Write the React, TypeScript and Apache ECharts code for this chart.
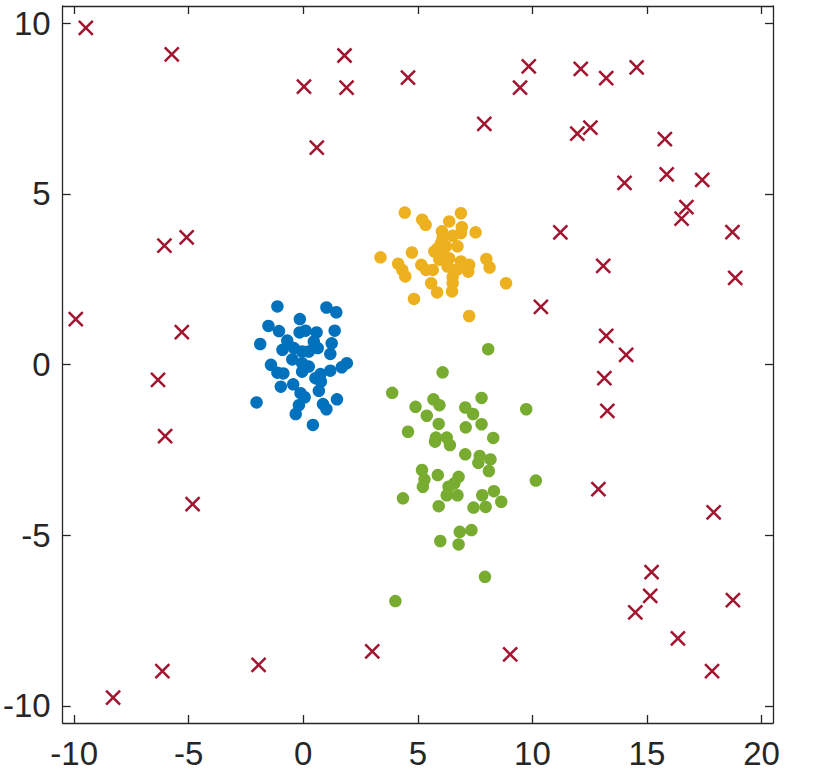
import React, { useEffect, useRef } from "react";
import * as echarts from "echarts";

const xTicks = [-10, -5, 0, 5, 10, 15, 20];
const yTicks = [-10, -5, 0, 5, 10];

const blueX = [-1.13, 1.01, 1.44, -0.15, -1.52, -1.06, -0.16, 0.10, 0.58, 1.37, -1.88, -0.70, 0.46, 1.24, -0.91, -0.41, -0.05, 0.24, 0.63, 1.18, -0.48, -0.05, 0.24, -1.41, -1.13, -0.87, -0.05, 1.90, 1.68, 1.18, 0.75, 0.53, 0.77, -0.98, -0.44, -0.12, 0.06, 0.68, -2.04, 1.47, -0.19, -0.33, 0.86, 1.01, 0.42];
const blueY = [1.70, 1.67, 1.53, 1.33, 1.13, 0.98, 0.94, 0.99, 0.94, 0.99, 0.60, 0.70, 0.67, 0.62, 0.43, 0.48, 0.38, 0.38, 0.48, 0.31, 0.15, 0.04, -0.06, -0.01, -0.24, -0.26, -0.21, 0.04, -0.08, -0.18, -0.28, -0.40, -0.50, -0.65, -0.58, -0.84, -0.96, -0.77, -1.11, -1.02, -1.19, -1.45, -1.16, -1.31, -1.77];

const yellowX = [4.43, 6.88, 5.19, 5.34, 6.37, 6.05, 6.92, 7.52, 6.52, 6.88, 6.01, 6.23, 6.73, 3.37, 4.74, 5.72, 6.08, 5.94, 6.37, 6.88, 7.24, 7.99, 8.13, 4.14, 4.32, 4.45, 5.15, 5.36, 5.65, 7.20, 6.52, 5.58, 6.52, 8.85, 5.84, 6.49, 4.83, 7.24, 6.08, 5.87, 6.30, 6.73];
const yellowY = [4.45, 4.43, 4.24, 4.09, 4.19, 3.90, 4.02, 3.87, 3.77, 3.85, 3.55, 3.46, 3.46, 3.14, 3.28, 3.31, 3.26, 3.07, 3.11, 3.02, 2.92, 3.09, 2.84, 2.95, 2.77, 2.58, 2.92, 2.77, 2.77, 2.72, 2.56, 2.38, 2.38, 2.38, 2.11, 2.14, 1.92, 1.42, 3.70, 3.41, 2.87, 2.79];

const greenX = [8.07, 6.08, 3.88, 4.90, 5.68, 5.94, 7.78, 7.07, 7.41, 9.73, 5.39, 5.91, 7.09, 7.78, 4.57, 5.79, 5.75, 6.26, 6.40, 8.29, 7.07, 7.70, 7.64, 8.17, 8.10, 5.18, 5.29, 5.22, 5.87, 6.78, 6.59, 6.34, 6.73, 6.26, 4.35, 5.91, 7.81, 8.32, 8.64, 7.43, 7.96, 10.15, 6.83, 7.34, 5.98, 6.78, 7.93, 4.02];
const greenY = [0.45, -0.23, -0.83, -1.24, -1.02, -1.19, -0.98, -1.26, -1.45, -1.31, -1.50, -1.74, -1.84, -1.75, -1.97, -2.14, -2.26, -2.14, -2.36, -2.15, -2.63, -2.68, -2.88, -2.78, -3.12, -3.09, -3.37, -3.58, -3.24, -3.29, -3.48, -3.58, -3.83, -3.83, -3.92, -4.15, -3.83, -3.71, -4.02, -4.19, -4.17, -3.40, -4.90, -4.85, -5.17, -5.27, -6.22, -6.93];

const redX = [-9.49, -5.74, 0.03, 1.80, 1.89, 4.57, 0.59, 9.84, 9.46, 7.90, 12.11, 13.22, 14.55, 11.96, 12.53, 15.78, 15.86, 14.02, 17.41, 16.72, 16.51, 18.73, 18.85, 11.22, 13.09, 10.37, 13.22, 14.09, 13.14, 13.27, 12.88, -6.06, -5.09, -9.93, -5.30, -6.34, -6.03, -4.83, -8.30, -6.15, -1.95, 3.01, 9.03, 17.91, 15.20, 15.14, 14.49, 16.35, 17.84, 18.75];
const redY = [9.86, 9.08, 8.14, 9.05, 8.11, 8.40, 6.35, 8.73, 8.11, 7.05, 8.66, 8.39, 8.70, 6.76, 6.94, 6.60, 5.57, 5.32, 5.41, 4.61, 4.27, 3.88, 2.54, 3.87, 2.89, 1.69, 0.84, 0.28, -0.40, -1.36, -3.65, 3.48, 3.72, 1.33, 0.95, -0.45, -2.10, -4.09, -9.76, -8.98, -8.80, -8.40, -8.49, -4.33, -6.08, -6.78, -7.26, -8.02, -8.98, -6.90];

const zip = (xs: number[], ys: number[]) => xs.map((x, i) => [x, ys[i]]);

const AXIS_COLOR = "#262626";

export default function App() {
  const ref = useRef<HTMLDivElement>(null);
  useEffect(() => {
    if (!ref.current) return;
    const chart = echarts.init(ref.current, undefined, { renderer: "svg" });
    const axisCommon = {
      axisLine: { show: true, onZero: false, lineStyle: { color: AXIS_COLOR, width: 1.3 } },
      splitLine: { show: false },
    };
    const xBase = {
      type: "value" as const,
      min: -10.5,
      max: 20.5,
      ...axisCommon,
      axisTick: { show: true, inside: true, length: 8, customValues: xTicks, lineStyle: { color: AXIS_COLOR, width: 1.3 } },
    };
    const yBase = {
      type: "value" as const,
      min: -10.5,
      max: 10.5,
      ...axisCommon,
      axisTick: { show: true, inside: true, length: 8, customValues: yTicks, lineStyle: { color: AXIS_COLOR, width: 1.3 } },
    };
    const labelStyle = { color: AXIS_COLOR, fontSize: 33, fontFamily: "Liberation Sans, Arial, sans-serif" };
    chart.setOption({
      animation: false,
      backgroundColor: "#ffffff",
      grid: { left: 57, right: 57, top: 6, bottom: 56, containLabel: false },
      xAxis: [
        { ...xBase, position: "bottom", axisLabel: { ...labelStyle, margin: 14, customValues: xTicks } },
        { ...xBase, position: "top", axisLabel: { show: false } },
      ],
      yAxis: [
        { ...yBase, position: "left", axisLabel: { ...labelStyle, margin: 12, customValues: yTicks } },
        { ...yBase, position: "right", axisLabel: { show: false } },
      ],
      series: [
        { type: "scatter", data: zip(blueX, blueY), symbol: "circle", symbolSize: 12.5, itemStyle: { color: "#0072BD", opacity: 1 } },
        { type: "scatter", data: zip(yellowX, yellowY), symbol: "circle", symbolSize: 12.5, itemStyle: { color: "#EDB120", opacity: 1 } },
        { type: "scatter", data: zip(greenX, greenY), symbol: "circle", symbolSize: 12.5, itemStyle: { color: "#77AC30", opacity: 1 } },
        {
          type: "scatter",
          data: zip(redX, redY),
          symbol: "path://M0,0L10,10M10,0L0,10",
          symbolSize: 14,
          itemStyle: { color: "none", borderColor: "#A2142F", borderWidth: 2.5, opacity: 1 },
        },
      ],
    });
    return () => chart.dispose();
  }, []);
  return <div ref={ref} style={{ position: "absolute", left: 0, top: 0, width: 830, height: 779 }} />;
}
